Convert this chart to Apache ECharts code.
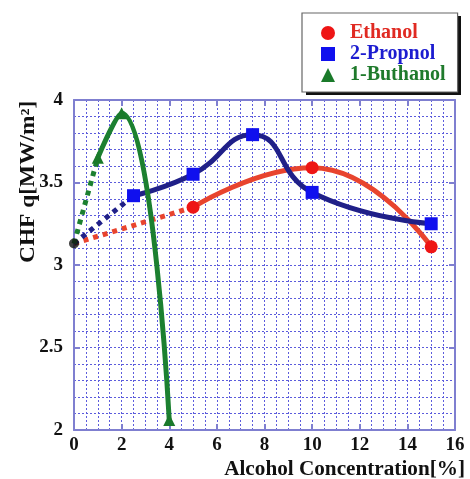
<!DOCTYPE html>
<html><head><meta charset="utf-8">
<script src="https://cdn.jsdelivr.net/npm/echarts@6/dist/echarts.min.js"></script>
<style>html,body{margin:0;padding:0;background:#fff}#c{width:470px;height:479px}</style>
</head><body><div id="c"></div>
<script>
var xTicks = [0, 2, 4, 6, 8, 10, 12, 14, 16];
var yTicks = [2, 2.5, 3, 3.5, 4];
var ethanolX = [0, 5, 10, 15];
var ethanolY = [3.13, 3.35, 3.59, 3.11];
var propanolX = [0, 2.5, 5, 7.5, 10, 15];
var propanolY = [3.13, 3.42, 3.55, 3.79, 3.44, 3.25];
var butanolX = [0, 1, 2, 4];
var butanolY = [3.13, 3.65, 3.92, 2.06];
var names = ['Ethanol', '2-Propnol', '1-Buthanol'];

var FONT = "'Liberation Serif','Times New Roman',serif";
var GRIDC = '#5c5cdc';
var AXC = '#7f7fd0';

function pts(xs, ys, a, b) {
  var r = [];
  for (var i = a; i <= b; i++) r.push([xs[i], ys[i]]);
  return r;
}

var redLine = '#e8442e', redMark = '#ee1515';
var blueLine = '#202088', blueMark = '#1010ee';
var greenLine = '#1c8030', greenMark = '#1a7a2a';

function dotted(name, data, color) {
  return {name: name, type: 'line', data: data, symbol: 'none', silent: true,
    lineStyle: {color: color, width: 5, type: [5, 5]}, z: 3};
}
function solid(name, data, lcolor, mcolor, sym) {
  return {name: name, type: 'line', data: data, smooth: 0.5,
    symbol: sym, symbolSize: sym === 'triangle' ? 12 : 13,
    itemStyle: {color: mcolor, borderWidth: 0},
    lineStyle: {color: lcolor, width: 5}, z: 4};
}

function baseX(pos, labels) {
  return {type: 'value', position: pos, min: 0, max: 16, interval: 2,
    axisLine: {show: true, onZero: false, lineStyle: {color: AXC, width: 2}},
    axisTick: {show: true, inside: true, length: 6, lineStyle: {color: AXC, width: 2}},
    minorTick: {show: false, splitNumber: 4},
    axisLabel: {show: labels, color: '#111', fontFamily: FONT, fontWeight: 'bold', fontSize: 19, margin: 6},
    splitLine: {show: labels, lineStyle: {color: GRIDC, width: 1, type: [2, 2]}},
    minorSplitLine: {show: labels, lineStyle: {color: GRIDC, width: 1, type: [2, 2]}}
  };
}
function baseY(pos, labels) {
  return {type: 'value', position: pos, min: 2, max: 4, interval: 0.5,
    axisLine: {show: true, onZero: false, lineStyle: {color: AXC, width: 2}},
    axisTick: {show: true, inside: true, length: 6, lineStyle: {color: AXC, width: 2}},
    minorTick: {show: false, splitNumber: 5},
    axisLabel: {show: labels, color: '#111', fontFamily: FONT, fontWeight: 'bold', fontSize: 19, margin: 11,
      formatter: function (v) { return String(v); }},
    splitLine: {show: labels, lineStyle: {color: GRIDC, width: 1, type: [2, 2]}},
    minorSplitLine: {show: labels, lineStyle: {color: GRIDC, width: 1, type: [2, 2]}}
  };
}

var chart = echarts.init(document.getElementById('c'), null, {renderer: 'canvas'});
chart.setOption({
  animation: false,
  backgroundColor: '#fff',
  grid: {left: 74, right: 15, top: 100, bottom: 49},
  xAxis: [baseX('bottom', true), baseX('top', false)],
  yAxis: [baseY('left', true), baseY('right', false)],
  legend: {
    orient: 'vertical', left: 302, top: 13,
    padding: [10, 12, 7, 19], itemGap: 1,
    itemWidth: 14, itemHeight: 14,
    backgroundColor: '#fff', borderColor: '#666', borderWidth: 1.2,
    z: 10,
    textStyle: {fontFamily: FONT, fontWeight: 'bold', fontSize: 20, lineHeight: 20, padding: [0, 0, 0, 10]},
    data: [
      {name: names[0], icon: 'circle', itemStyle: {color: redMark}, textStyle: {color: '#e02a22'}},
      {name: names[1], icon: 'rect', itemStyle: {color: blueMark}, textStyle: {color: '#1c1cd0'}},
      {name: names[2], icon: 'triangle', itemStyle: {color: greenMark}, textStyle: {color: '#1f7a2c'}}
    ]
  },
  graphic: [
    {type: 'rect', shape: {x: 306, y: 16, width: 155, height: 79}, style: {fill: '#111'}, z: 1},
    {type: 'text', x: 19, y: 263, rotation: Math.PI / 2, scaleX: 1.17,
      style: {text: 'CHF q[MW/m\u00B2]', fill: '#111', font: 'bold 20px ' + FONT, textVerticalAlign: 'top'}},
    {type: 'text', x: 465, y: 460, scaleX: 1.06,
      style: {text: 'Alcohol Concentration[%]', fill: '#111', font: 'bold 20px ' + FONT, textAlign: 'right', textVerticalAlign: 'top'}}
  ],
  series: [
    dotted('e_d', pts(ethanolX, ethanolY, 0, 1), redLine),
    dotted('p_d', pts(propanolX, propanolY, 0, 1), blueLine),
    dotted('b_d', pts(butanolX, butanolY, 0, 1), greenLine),
    solid(names[0], pts(ethanolX, ethanolY, 1, ethanolX.length - 1), redLine, redMark, 'circle'),
    solid(names[1], pts(propanolX, propanolY, 1, propanolX.length - 1), blueLine, blueMark, 'rect'),
    solid(names[2], pts(butanolX, butanolY, 1, butanolX.length - 1), greenLine, greenMark, 'triangle'),
    {name: 'origin', type: 'scatter', data: [[ethanolX[0], ethanolY[0]]], symbol: 'circle', symbolSize: 10,
      itemStyle: {color: '#111'}, z: 5, silent: true}
  ]
});
</script></body></html>
